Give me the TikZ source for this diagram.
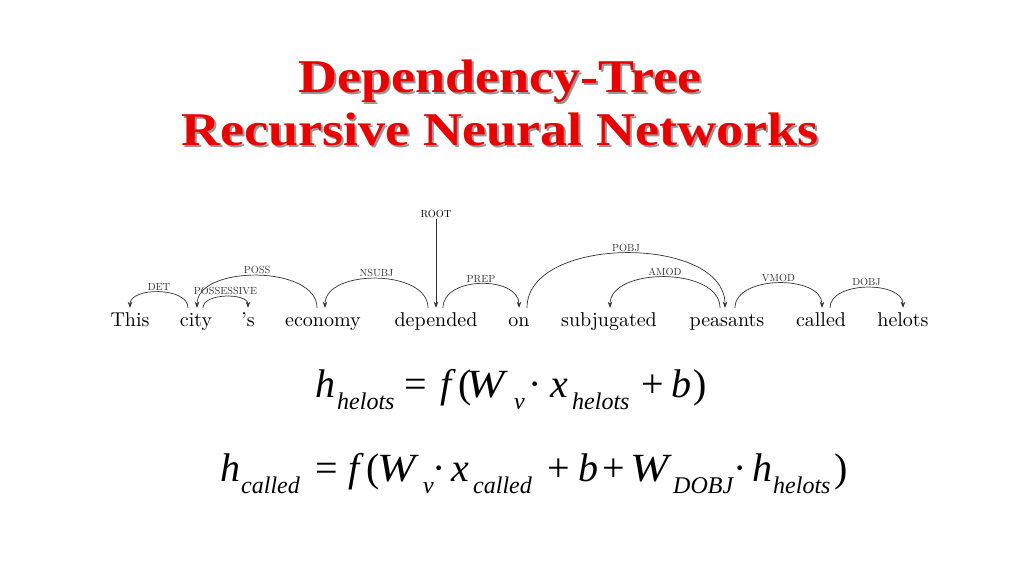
\documentclass[tikz,border=0pt]{standalone}
\usepackage{fontspec}
\usetikzlibrary{arrows.meta}
\newfontfamily\titlefont{Liberation Serif}
\newfontfamily\eqfont{Liberation Serif}
\newfontfamily\wordfont{lmroman10-regular.otf}
\definecolor{titlered}{RGB}{235,0,0}
\definecolor{shadowgray}{RGB}{150,150,150}
\newcommand{\es}[1]{\raisebox{-12pt}{\fontsize{24}{24}\selectfont\itshape #1}}
\newcommand{\pc}[2]{\makebox[#1pt][l]{#2}}
\newcommand{\bigW}{\scalebox{1.15}[1]{\itshape W}}
\begin{document}
\begin{tikzpicture}[x=1pt,y=-1pt,
  word/.style={font=\wordfont\fontsize{20}{20}\selectfont, anchor=base, inner xsep=0pt, inner ysep=4pt, text height=14pt, text depth=4pt},
  lab/.style={font=\wordfont\fontsize{10.3}{11}\selectfont, inner sep=1pt},
  arc/.style={line width=0.7pt, black!80, -{Stealth[length=6pt,width=4.5pt]}},
  ttl/.style={font=\titlefont\bfseries\fontsize{47}{47}\selectfont, anchor=base, inner sep=0pt},
  eq/.style={font=\eqfont\fontsize{40}{40}\selectfont, anchor=base west, inner sep=0pt}]
\fill[white] (0,0) rectangle (1024,576);
\useasboundingbox (0,0) rectangle (1024,576);

% title
\node[ttl, text=shadowgray] (t1s) at (502,94) {\scalebox{1.15}[1]{Dependency-Tree}};
\node[ttl, text=titlered] (t1) at (500,92) {\scalebox{1.15}[1]{Dependency-Tree}};
\node[ttl, text=shadowgray] (t2s) at (502,147) {\scalebox{1.15}[1]{Recursive Neural Networks}};
\node[ttl, text=titlered] (t2) at (500,145) {\scalebox{1.15}[1]{Recursive Neural Networks}};

% words
\node[word] (This) at (130,326) {This};
\node[word] (city) at (196,326) {city};
\node[word] (s) at (248,326) {’s};
\node[word] (economy) at (323,326) {economy};
\node[word] (depended) at (436,326) {depended};
\node[word] (on) at (519,326) {on};
\node[word] (subjugated) at (609,326) {subjugated};
\node[word] (peasants) at (727,326) {peasants};
\node[word] (called) at (821,326) {called};
\node[word] (helots) at (903,326) {helots};

% root
\node[lab] (root) at (436,214) {ROOT};
\draw[arc] (root.south) -- (depended.north);

% arcs
\draw[arc] ([xshift=-8pt]city.north) .. controls +(0,-21) and +(0,-21) .. (This.north)
  node[lab, midway, above] (det) {DET};
\draw[arc] ([xshift=-6pt]economy.north) .. controls +(0,-43) and +(0,-43) .. ([xshift=1pt]city.north)
  node[lab, midway, above] (poss) {POSS};
\draw[arc] ([xshift=7pt]city.north) .. controls +(0,-15) and +(0,-15) .. (s.north)
  node[lab, midway, above] (possessive) {POSSESSIVE};
\draw[arc] ([xshift=-8pt]depended.north) .. controls +(0,-39) and +(0,-39) .. ([xshift=2pt]economy.north)
  node[lab, midway, above] (nsubj) {NSUBJ};
\draw[arc] ([xshift=7pt]depended.north) .. controls +(0,-32) and +(0,-32) .. (on.north)
  node[lab, midway, above] (prep) {PREP};
\draw[arc] ([xshift=8pt]on.north) .. controls +(0,-73) and +(0,-73) .. ([xshift=-2pt]peasants.north)
  node[lab, midway, above] (pobj) {POBJ};
\draw[arc] ([xshift=-7pt]peasants.north) .. controls +(0,-41) and +(0,-41) .. ([xshift=1pt]subjugated.north)
  node[lab, midway, above] (amod) {AMOD};
\draw[arc] ([xshift=8pt]peasants.north) .. controls +(0,-33) and +(0,-33) .. ([xshift=1pt]called.north)
  node[lab, midway, above] (vmod) {VMOD};
\draw[arc] ([xshift=9pt]called.north) .. controls +(0,-27) and +(0,-27) .. (helots.north)
  node[lab, midway, above] (dobj) {DOBJ};

% equations
\node[eq] (eq1) at (315,397) {\pc{22}{\itshape h}\pc{67}{\es{helots}}\pc{36}{=}\pc{18}{\itshape f}\pc{8}{(}\pc{48}{\bigW}\pc{14}{\es{v}}\pc{22}{·}\pc{22}{\itshape x}\pc{69}{\es{helots}}\pc{30}{+}\pc{22}{\itshape b}{)}};
\node[eq] (eq2) at (220,481) {\pc{21}{\itshape h}\pc{74}{\es{called}}\pc{33}{=}\pc{18}{\itshape f}\pc{11}{(}\pc{46}{\bigW}\pc{9}{\es{v}}\pc{19}{·}\pc{22}{\itshape x}\pc{74}{\es{called}}\pc{31}{+}\pc{24}{\itshape b}\pc{28}{+}\pc{43}{\bigW}\pc{60}{\es{DOBJ}}\pc{19}{·}\pc{21}{\itshape h}\pc{61}{\es{helots}}{)}};
\end{tikzpicture}
\end{document}
